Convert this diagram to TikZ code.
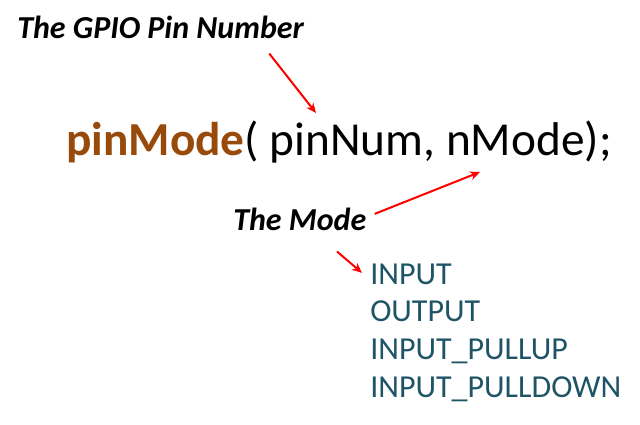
\documentclass[tikz,border=0pt]{standalone}
\usepackage{fontspec}
\setmainfont{Carlito}
\usetikzlibrary{positioning,calc,arrows.meta}
\definecolor{fnbrown}{RGB}{152,74,10}
\definecolor{modeteal}{RGB}{30,84,102}
\tikzset{
	txt/.style={inner sep=0pt, anchor=base west},
	note/.style={txt, font=\fontsize{24}{24}\selectfont\bfseries\itshape},
	modeval/.style={txt, text=modeteal, font=\fontsize{24}{24}\selectfont},
	pointer/.style={-{Stealth[length=7.5pt,width=6.5pt]}, red, line width=1.5pt}
}
\begin{document}
\begin{tikzpicture}[x=0.75pt,y=-0.75pt]
	\def\pitch{37.7};
	\useasboundingbox (0,0) rectangle (640,425);
	
	\node[note] (gpio) at (17,38) {The GPIO Pin Number};
	\node[txt, font=\fontsize{35.5}{35.5}\selectfont] (call) at (66,155) {\textcolor{fnbrown}{\bfseries pinMode}( pinNum, nMode);};
	\node[note] (mode) at (233,230) {The Mode};
	
	\node[modeval] (input) at (370,284) {INPUT};
	\node[modeval] (output) at (370,284+\pitch) {OUTPUT};
	\node[modeval] (pullup) at (370,284+2*\pitch) {INPUT\_PULLUP};
	\node[modeval] (pulldown) at (370,284+3*\pitch) {INPUT\_PULLDOWN};
	
	\coordinate (pinhead) at (316,113);
	\coordinate (modehead) at (480,172);
	
	\draw[pointer] ($(gpio.south east)+(-35,15)$) -- (pinhead);
	\draw[pointer] ($(mode.east)+(8,-5)$) -- (modehead);
	\draw[pointer] ($(mode.south west)+(104,21)$) -- ($(input.west)+(-8,-1)$);
\end{tikzpicture}
\end{document}
